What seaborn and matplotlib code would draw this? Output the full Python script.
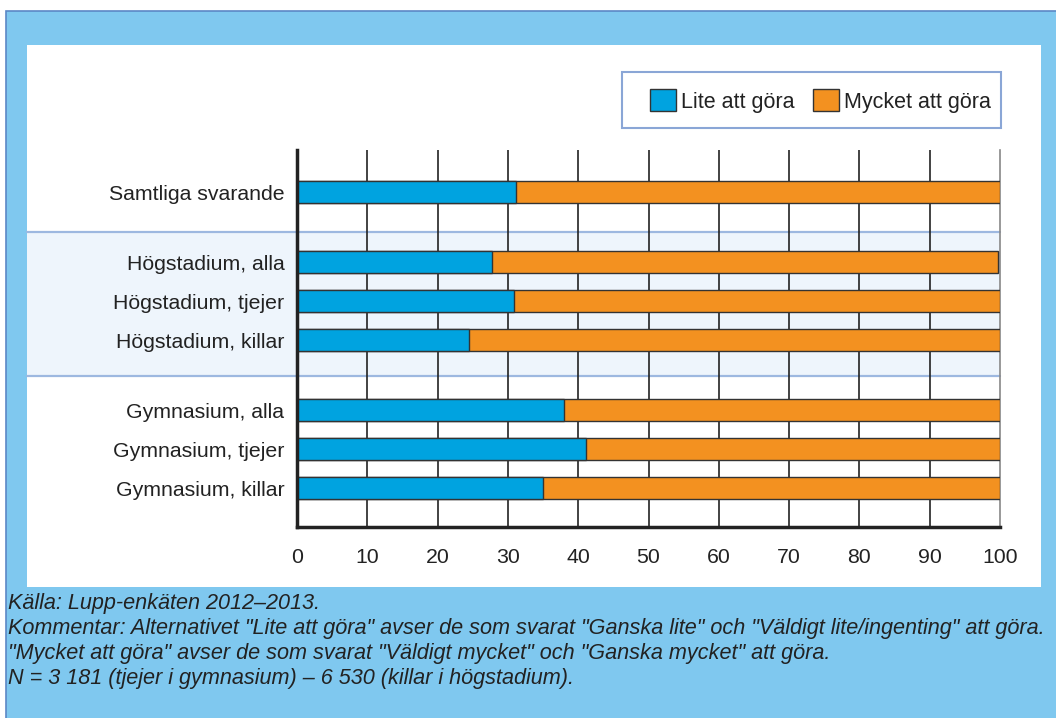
import pandas as pd
import seaborn as sns
import matplotlib.pyplot as plt
from matplotlib.patches import Rectangle

# data (percent)
groups = ['Samtliga svarande',
          'Högstadium, alla', 'Högstadium, tjejer', 'Högstadium, killar',
          'Gymnasium, alla', 'Gymnasium, tjejer', 'Gymnasium, killar']
row_pos = [0, 1.8, 2.8, 3.8, 5.6, 6.6, 7.6]
lite = [31.1, 27.8, 30.9, 24.5, 38.0, 41.1, 35.0]
mycket = [68.9, 71.9, 69.1, 75.5, 62.0, 58.9, 65.0]
series_names = ['Lite att göra', 'Mycket att göra']
xticks = list(range(0, 101, 10))
footer = ['Källa: Lupp-enkäten 2012–2013.',
          'Kommentar: Alternativet "Lite att göra" avser de som svarat "Ganska lite" och "Väldigt lite/ingenting" att göra.',
          '"Mycket att göra" avser de som svarat "Väldigt mycket" och "Ganska mycket" att göra.',
          'N = 3 181 (tjejer i gymnasium) – 6 530 (killar i högstadium).']

BLUE = '#00a3e0'
ORANGE = '#f39120'
FRAME = '#7fc8ef'
BAND = '#eef5fc'
BAND_LINE = '#9db8e0'
TXT = '#222222'

df = pd.DataFrame({'group': groups, 'pos': row_pos, 'lite': lite, 'mycket': mycket})
df['total'] = df['lite'] + df['mycket']

sns.set_style('white')
plt.rcParams['font.family'] = ['Liberation Sans', 'DejaVu Sans']

fig = plt.figure(figsize=(10.56, 7.18), dpi=100)
# light blue frame and white panel
fig.patches.append(Rectangle((6 / 1056, -0.1), 1.2, 1.1 - 11 / 718, transform=fig.transFigure,
                             facecolor=FRAME, edgecolor='#5b88c6', lw=1.2, zorder=-10))
fig.patches.append(Rectangle((27 / 1056, 1 - 587 / 718), 1014 / 1056, 542 / 718,
                             transform=fig.transFigure, facecolor='white',
                             edgecolor='none', zorder=-9))
# legend box
fig.patches.append(Rectangle((622 / 1056, 1 - 128 / 718), 379 / 1056, 56 / 718,
                             transform=fig.transFigure, facecolor='white',
                             edgecolor='#8aa6d6', lw=1.5, zorder=-8))

ax = fig.add_axes([297 / 1056, 1 - 527 / 718, 703 / 1056, 377 / 718])
ax.set_facecolor('none')

# stacked bars: full bar in orange, blue part on top
sns.barplot(data=df, x='total', y='pos', orient='h', native_scale=True, color=ORANGE,
            saturation=1, width=0.564, edgecolor='#333333', linewidth=1.0,
            label=series_names[1], ax=ax, zorder=3)
sns.barplot(data=df, x='lite', y='pos', orient='h', native_scale=True, color=BLUE,
            saturation=1, width=0.564, edgecolor='#333333', linewidth=1.0,
            label=series_names[0], ax=ax, zorder=4)

ax.set_ylim(8.59, -1.077)
ax.set_xlim(0, 100)

# shaded band behind the Högstadium rows
band_lo, band_hi = 1.026, 4.72
xmin = (27 - 297) / 703
ax.axhspan(band_lo, band_hi, xmin=xmin, xmax=1, facecolor=BAND, edgecolor='none',
           clip_on=False, zorder=0)
for yy in (band_lo, band_hi):
    ax.axhline(yy, xmin=xmin, xmax=1, color=BAND_LINE, lw=1.6, clip_on=False, zorder=0.2)

# vertical grid
for xv in xticks[1:-1]:
    ax.axvline(xv, color=TXT, lw=1.2, zorder=1)

ax.set_yticks(row_pos)
ax.set_yticklabels(groups, fontsize=15.3, color=TXT)
ax.set_xticks(xticks)
ax.set_xticklabels([str(v) for v in xticks], fontsize=15.3, color=TXT)
ax.tick_params(axis='y', length=0, pad=9)
ax.tick_params(axis='x', length=0, pad=15)
ax.set_xlabel('')
ax.set_ylabel('')

for side in ('left', 'bottom'):
    ax.spines[side].set_color(TXT)
    ax.spines[side].set_linewidth(2.5)
    ax.spines[side].set_zorder(6)
ax.spines['top'].set_visible(False)
ax.spines['right'].set_color('#888888')
ax.spines['right'].set_linewidth(1.2)

handles, labels = ax.get_legend_handles_labels()
order = [labels.index(n) for n in series_names]
leg = ax.legend([handles[i] for i in order], [labels[i] for i in order],
                loc='center left', bbox_to_anchor=(650 / 1056, 1 - 101 / 718),
                bbox_transform=fig.transFigure, ncol=2, fontsize=15.5, frameon=False,
                handlelength=1.2, handleheight=1.2,
                handletextpad=0.25, columnspacing=0.85, borderpad=0,
                borderaxespad=0)
for t in leg.get_texts():
    t.set_color(TXT)

for i, line in enumerate(footer):
    fig.text(8 / 1056, 1 - (604 + 24.7 * i) / 718, line, fontsize=15.6, style='italic',
             color=TXT, va='center', ha='left')

fig.savefig('out.png', dpi=100)
